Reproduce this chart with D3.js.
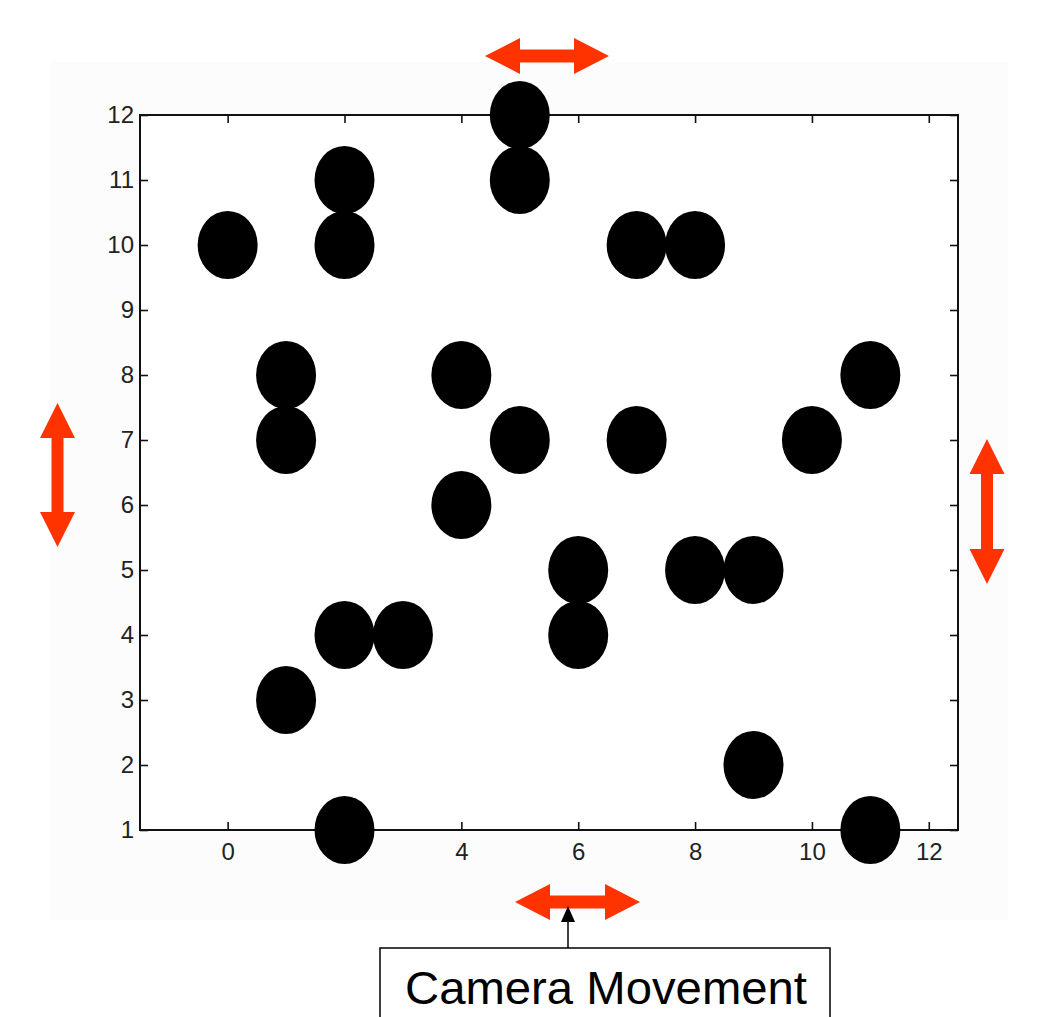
<!DOCTYPE html>
<html><head><meta charset="utf-8">
<script src="https://cdn.jsdelivr.net/npm/d3@7"></script>
<style>body{margin:0;background:#fff;}svg{display:block;}</style>
</head><body>
<script>
const pointX = [0, 2, 2, 5, 5, 7, 8, 1, 1, 4, 5, 7, 10, 11, 4, 6, 6, 8, 9, 2, 3, 1, 9, 2, 11];
const pointY = [10, 11, 10, 12, 11, 10, 10, 8, 7, 8, 7, 7, 7, 8, 6, 5, 4, 5, 5, 4, 4, 3, 2, 1, 1];
const xTicks = [0, 2, 4, 6, 8, 10, 12];
const yTicks = [1, 2, 3, 4, 5, 6, 7, 8, 9, 10, 11, 12];
const xDomain = [-1.5, 12.5];
const yDomain = [1, 12];
const caption = "Camera Movement";

const W = 1037, H = 1017;
const svg = d3.select("body").append("svg").attr("width", W).attr("height", H);
svg.append("rect").attr("width", W).attr("height", H).attr("fill", "#fff");
svg.append("rect").attr("x", 50).attr("y", 62).attr("width", 958).attr("height", 858).attr("fill", "#fcfcfc");

const L = 140, R = 958, T = 115, B = 830;
const x = d3.scaleLinear().domain(xDomain).range([L, R]);
const y = d3.scaleLinear().domain(yDomain).range([B, T]);

svg.append("rect").attr("x", L).attr("y", T).attr("width", R - L).attr("height", B - T).attr("fill", "#fff");

const tl = 8;
const font = "'Liberation Sans', Arial, Helvetica, sans-serif";
const gx = svg.append("g").attr("transform", `translate(0,${B})`)
  .call(d3.axisBottom(x).tickValues(xTicks).tickSize(-tl).tickPadding(13).tickFormat(d3.format("d")));
const gxt = svg.append("g").attr("transform", `translate(0,${T})`)
  .call(d3.axisTop(x).tickValues(xTicks).tickSize(-tl).tickFormat(""));
const gy = svg.append("g").attr("transform", `translate(${L},0)`)
  .call(d3.axisLeft(y).tickValues(yTicks).tickSize(-tl).tickPadding(6).tickFormat(d3.format("d")));
const gyr = svg.append("g").attr("transform", `translate(${R},0)`)
  .call(d3.axisRight(y).tickValues(yTicks).tickSize(-tl).tickFormat(""));
[gx, gxt, gy, gyr].forEach(g => {
  g.select(".domain").remove();
  g.selectAll(".tick line").attr("stroke", "#111").attr("stroke-width", 1.6);
  g.selectAll("text").attr("font-family", font).attr("font-size", 24).attr("fill", "#222");
});
svg.append("rect").attr("x", L).attr("y", T).attr("width", R - L).attr("height", B - T)
  .attr("fill", "none").attr("stroke", "#111").attr("stroke-width", 2);

svg.append("g").selectAll("ellipse").data(pointX.map((d, i) => [d, pointY[i]])).join("ellipse")
  .attr("cx", d => x(d[0])).attr("cy", d => y(d[1])).attr("rx", 30).attr("ry", 34).attr("fill", "#000");

// double-headed arrows
const red = "#ff3300";
function hArrow(x1, x2, cy) {
  const hl = 35, hh = 18, sh = 6.5;
  const p = [[x1, cy], [x1 + hl, cy - hh], [x1 + hl, cy - sh], [x2 - hl, cy - sh], [x2 - hl, cy - hh], [x2, cy],
    [x2 - hl, cy + hh], [x2 - hl, cy + sh], [x1 + hl, cy + sh], [x1 + hl, cy + hh]];
  svg.append("polygon").attr("points", p.map(q => q.join(",")).join(" ")).attr("fill", red);
}
function vArrow(cx, y1, y2) {
  const hl = 35, hw = 17.5, sw = 6;
  const p = [[cx, y1], [cx + hw, y1 + hl], [cx + sw, y1 + hl], [cx + sw, y2 - hl], [cx + hw, y2 - hl], [cx, y2],
    [cx - hw, y2 - hl], [cx - sw, y2 - hl], [cx - sw, y1 + hl], [cx - hw, y1 + hl]];
  svg.append("polygon").attr("points", p.map(q => q.join(",")).join(" ")).attr("fill", red);
}
hArrow(485, 609, 56);
hArrow(515, 640, 902);
vArrow(57.5, 403, 547);
vArrow(987, 439, 584);

// caption box with pointer
svg.append("line").attr("x1", 568).attr("x2", 568).attr("y1", 948).attr("y2", 918).attr("stroke", "#000").attr("stroke-width", 1.5);
svg.append("polygon").attr("points", "568,906 561,922 575,922").attr("fill", "#000");
svg.append("rect").attr("x", 380).attr("y", 948).attr("width", 450).attr("height", 90)
  .attr("fill", "#fff").attr("stroke", "#000").attr("stroke-width", 1.5);
svg.append("text").attr("x", 405).attr("y", 1004)
  .attr("font-family", font).attr("font-size", 46).attr("fill", "#000")
  .attr("textLength", 402).attr("lengthAdjust", "spacingAndGlyphs").text(caption);
</script>
</body></html>
